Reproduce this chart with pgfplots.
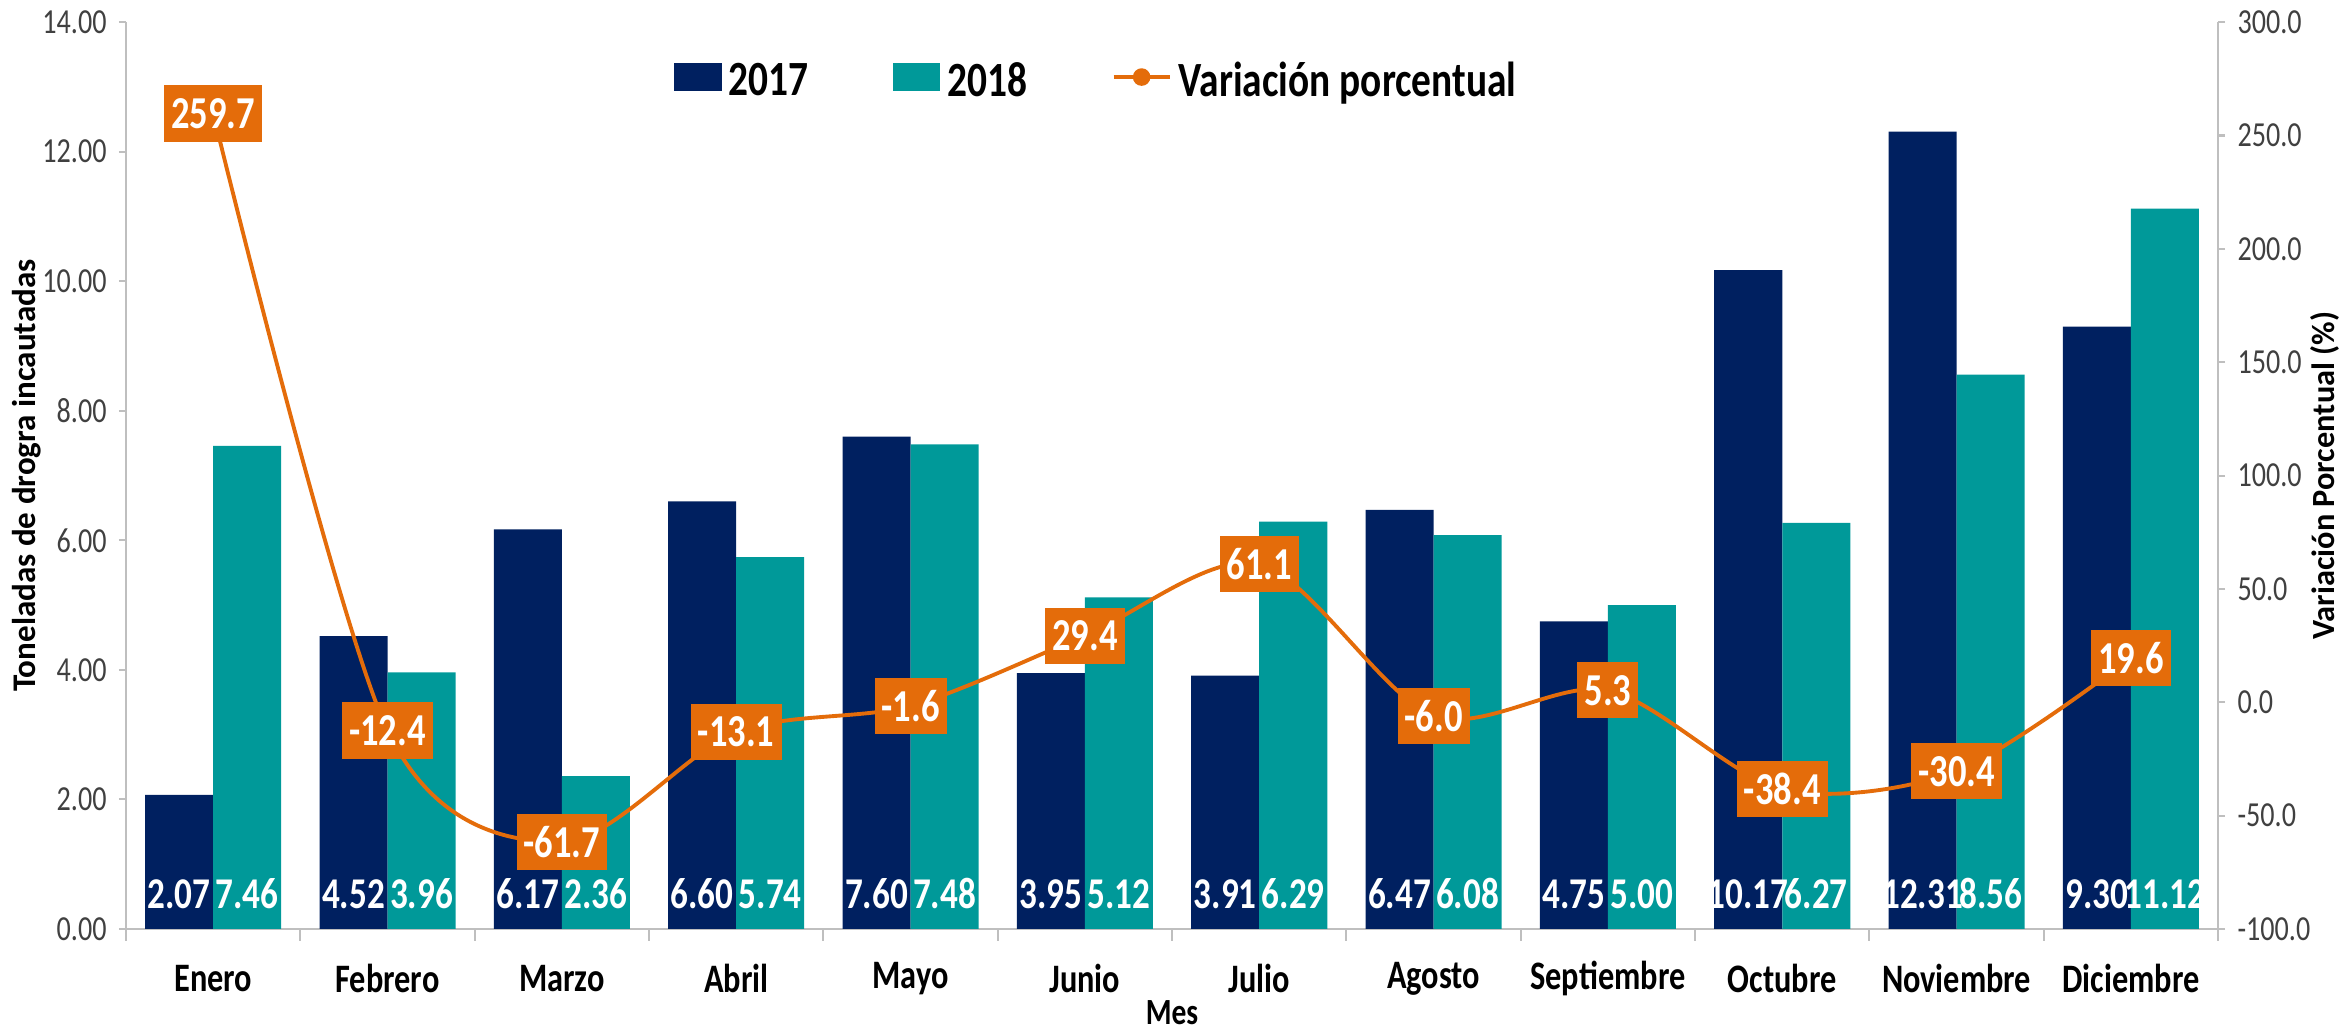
\documentclass[border=0pt]{standalone}
\usepackage{pgfplots}
\pgfplotsset{compat=1.18}
\usepackage{fontspec}
\setmainfont{Carlito}[FakeStretch=0.8]
\newfontfamily\rotfont{Carlito}
\definecolor{navyC}{HTML}{002060}
\definecolor{tealC}{HTML}{009999}
\definecolor{orangeC}{HTML}{E46C0A}
\definecolor{axisgray}{HTML}{BFBFBF}
\definecolor{ticktext}{HTML}{404040}
\begin{document}
\begin{tikzpicture}
\path[use as bounding box] (-35.85pt,-29.6pt) rectangle (631.3pt,264.3pt);
\begin{axis}[
  at={(0pt,0pt)}, anchor=south west,
  width=595.2pt, height=258pt, scale only axis,
  xmin=-0.5, xmax=11.5, ymin=0, ymax=14,
  ybar=0pt, bar width=19.35pt,
  axis x line*=bottom, axis y line*=left,
  axis line style={axisgray, line width=0.6pt},
  tick align=outside,
  xtick={0,...,11},
  xticklabels={Enero,Febrero,Marzo,Abril,Mayo,Junio,Julio,Agosto,Septiembre,Octubre,Noviembre,Diciembre},
  major x tick style={draw=none},
  minor xtick={-0.5,0.5,...,11.5},
  minor x tick style={axisgray, line width=0.6pt},
  minor tick length=3.3pt,
  ytick={0,2,...,14},
  major tick length=2pt,
  major y tick style={axisgray, line width=0.6pt},
  /pgf/number format/assume math mode=true,
  yticklabel={\pgfmathprintnumber[fixed, fixed zerofill, precision=2]{\tick}},
  yticklabel style={font=\fontsize{10}{11}\selectfont, text=ticktext, anchor=east, xshift=0pt},
  xticklabel style={font=\bfseries\fontsize{11.5}{12}\selectfont, anchor=center, yshift=-12.2pt},
  ylabel={Toneladas de drogra incautadas},
  every axis y label/.style={at={(axis description cs:-0.0473,0.5)}, rotate=90, anchor=center, font=\rotfont\bfseries\fontsize{9.4}{10}\selectfont},
  xlabel={Mes},
  every axis x label/.style={at={(axis description cs:0.5,-0.092)}, anchor=center, font=\bfseries\fontsize{10.5}{12}\selectfont},
  legend style={at={(axis description cs:0.465,0.934)}, anchor=center, legend columns=-1, draw=none, fill=none,
    font=\bfseries\fontsize{14}{16}\selectfont,
    /tikz/every odd column/.append style={column sep=0pt},
    /tikz/every even column/.append style={column sep=22pt},
    nodes={inner xsep=2pt}},
  nodes near coords,
  point meta=explicit symbolic,
  visualization depends on=rawy \as \rawy,
  every node near coord/.append style={shift={(axis direction cs:0,-\rawy)}, anchor=base, yshift=5.7pt, text=white, font=\bfseries\fontsize{12.5}{12.5}\selectfont, inner xsep=0pt},
]
\addplot[fill=navyC, draw=none, legend image code/.code={\fill[navyC] (0pt,-2.5pt) rectangle (13.5pt,5.3pt);}] coordinates {
(0,2.07)[2.07] (1,4.52)[4.52] (2,6.17)[6.17] (3,6.60)[6.60] (4,7.60)[7.60] (5,3.95)[3.95]
(6,3.91)[3.91] (7,6.47)[6.47] (8,4.75)[4.75] (9,10.17)[10.17] (10,12.31)[12.31] (11,9.30)[9.30]};
\addlegendentry{2017}
\addplot[fill=tealC, draw=none, legend image code/.code={\fill[tealC] (0pt,-2.5pt) rectangle (13.5pt,5.3pt);}] coordinates {
(0,7.46)[7.46] (1,3.96)[3.96] (2,2.36)[2.36] (3,5.74)[5.74] (4,7.48)[7.48] (5,5.12)[5.12]
(6,6.29)[6.29] (7,6.08)[6.08] (8,5.00)[5.00] (9,6.27)[6.27] (10,8.56)[8.56] (11,11.12)[11.12]};
\addlegendentry{2018}
\addlegendimage{legend image code/.code={\draw[orangeC, line width=1.1pt] (0pt,1.4pt) -- (16pt,1.4pt); \fill[orangeC] (8pt,1.4pt) circle (2.3pt);}}
\addlegendentry{Variación porcentual}
\end{axis}
\begin{axis}[
  at={(0pt,0pt)}, anchor=south west,
  width=595.2pt, height=258pt, scale only axis,
  xmin=-0.5, xmax=11.5, ymin=-100, ymax=300,
  axis x line=none, axis y line*=right,
  axis line style={axisgray, line width=0.6pt},
  tick align=outside,
  ytick={-100,-50,...,300},
  major tick length=2pt,
  major y tick style={axisgray, line width=0.6pt},
  /pgf/number format/assume math mode=true,
  yticklabel={\pgfmathprintnumber[fixed, fixed zerofill, precision=1]{\tick}},
  yticklabel style={font=\fontsize{10}{11}\selectfont, text=ticktext, anchor=west, xshift=0pt},
  ylabel={Variación Porcentual (\%)},
  every axis y label/.style={at={(axis description cs:1.051,0.5)}, rotate=90, anchor=center, font=\rotfont\bfseries\fontsize{9.2}{10}\selectfont},
]
\addplot[orangeC, line width=1.1pt, smooth, mark=*, mark size=2.2pt,
  nodes near coords, point meta=explicit symbolic,
  every node near coord/.append style={anchor=center, fill=orangeC, text=white, font=\bfseries\fontsize{13}{13}\selectfont, minimum height=16pt, inner xsep=2pt, inner ysep=0pt}]
coordinates {
(0,259.7)[259.7] (1,-12.4)[-12.4] (2,-61.7)[-61.7] (3,-13.1)[-13.1] (4,-1.6)[-1.6] (5,29.4)[29.4]
(6,61.1)[61.1] (7,-6.0)[-6.0] (8,5.3)[5.3] (9,-38.4)[-38.4] (10,-30.4)[-30.4] (11,19.6)[19.6]};
\end{axis}
\end{tikzpicture}
\end{document}
